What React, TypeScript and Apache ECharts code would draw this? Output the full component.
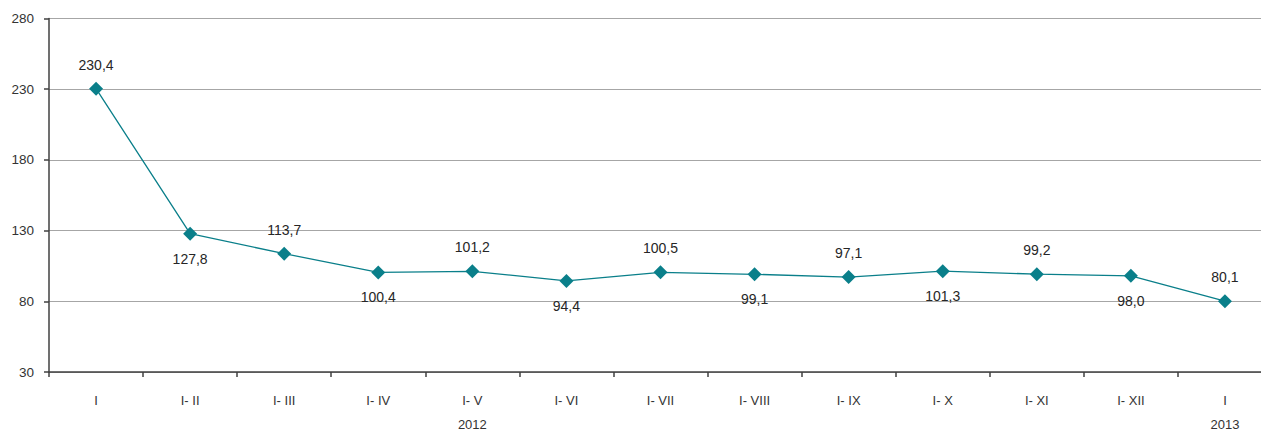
import React, { useEffect, useRef } from "react";
import * as echarts from "echarts";

const categories = ["I", "I- II", "I- III", "I- IV", "I- V", "I- VI", "I- VII", "I- VIII", "I- IX", "I- X", "I- XI", "I- XII", "I"];
const yearLabels = ["", "", "", "", "2012", "", "", "", "", "", "", "", "2013"];
const values = [230.4, 127.8, 113.7, 100.4, 101.2, 94.4, 100.5, 99.1, 97.1, 101.3, 99.2, 98.0, 80.1];
const labelPos = ["top", "bottom", "top", "bottom", "top", "bottom", "top", "bottom", "top", "bottom", "top", "bottom", "top"];

const FONT = "'Liberation Sans', Arial, sans-serif";

export default function App() {
  const ref = useRef<HTMLDivElement>(null);
  useEffect(() => {
    if (!ref.current) return;
    const chart = echarts.init(ref.current, null, { renderer: "svg" });
    chart.setOption({
      animation: false,
      grid: { left: 49, right: 0, top: 18.5, bottom: 56, containLabel: false },
      xAxis: {
        type: "category",
        data: categories.map((c, i) => (yearLabels[i] ? c + "\n" + yearLabels[i] : c)),
        boundaryGap: true,
        axisLine: { lineStyle: { color: "#404040", width: 1.5 } },
        axisTick: { show: true, length: 5, lineStyle: { color: "#404040", width: 1.5 } },
        axisLabel: {
          color: "#333",
          fontFamily: FONT,
          fontSize: 13,
          margin: 16,
          lineHeight: 24,
          interval: 0,
        },
        splitLine: { show: false },
      },
      yAxis: {
        type: "value",
        min: 30,
        max: 280,
        interval: 50,
        axisLine: { show: true, lineStyle: { color: "#404040", width: 1.5 } },
        axisTick: { show: true, length: 5, lineStyle: { color: "#404040", width: 1.5 } },
        axisLabel: { color: "#333", fontFamily: FONT, fontSize: 13.5, margin: 15 },
        splitLine: { show: true, lineStyle: { color: "#a6a6a6", width: 1.2 } },
      },
      series: [
        {
          type: "line",
          data: values.map((v, i) => ({
            value: v,
            label: { position: labelPos[i], distance: labelPos[i] === "top" ? 10 : 11 },
          })),
          symbol: "diamond",
          symbolSize: 14,
          lineStyle: { color: "#0a7f8a", width: 1.3 },
          itemStyle: { color: "#0a7f8a" },
          label: {
            show: true,
            color: "#262626",
            fontFamily: FONT,
            fontSize: 14,
            formatter: (p: any) => p.value.toFixed(1).replace(".", ","),
          },
        },
      ],
    });
    return () => chart.dispose();
  }, []);
  return (
    <div
      style={{ position: "fixed", left: 0, top: 0, width: 1261, height: 436, overflow: "hidden", background: "#fff" }}
    >
      <div ref={ref} style={{ width: 1272, height: 436 }} />
    </div>
  );
}
